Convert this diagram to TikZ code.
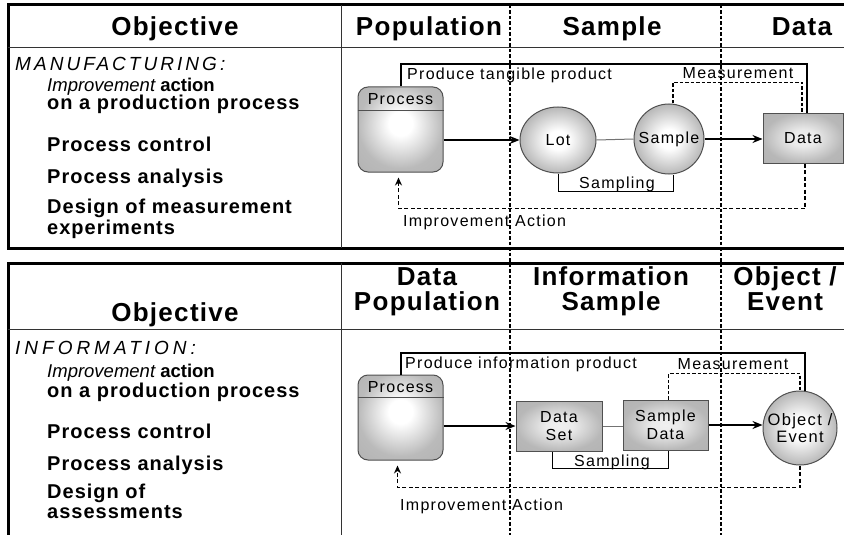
\documentclass[tikz,border=0pt]{standalone}
\usepackage{fontspec}
\setmainfont{Liberation Sans}
\newfontfamily\headfont{Liberation Sans}[LetterSpace=5]
\newfontfamily\listfont{Liberation Sans}[LetterSpace=5]
\newfontfamily\plainfont{Liberation Sans}
\newfontfamily\capsfont{Liberation Sans}[LetterSpace=16]
\newfontfamily\capswide{Liberation Sans}[LetterSpace=21]
\newfontfamily\lblfont{Liberation Sans}[LetterSpace=8]
\usetikzlibrary{arrows.meta,shapes.geometric,calc}
\definecolor{edgegray}{HTML}{505050}
\pgfdeclareradialshading{softball}{\pgfpoint{0bp}{0bp}}{color(0bp)=(white); color(7bp)=(white); color(25bp)=(black!28); color(50bp)=(black!28)}
\pgfdeclareradialshading{softbox}{\pgfpoint{0bp}{4bp}}{color(0bp)=(white); color(7bp)=(white); color(25bp)=(black!27); color(50bp)=(black!33)}
\pgfdeclareradialshading{softdata}{\pgfpoint{0bp}{0bp}}{color(0bp)=(black!6); color(8bp)=(black!8); color(25bp)=(black!28); color(50bp)=(black!32)}
\begin{document}
\begin{tikzpicture}[x=1pt,y=-1pt,
  head/.style={font=\headfont\bfseries\fontsize{26}{24.5}\selectfont, inner sep=0pt, align=center},
  listtxt/.style={font=\listfont\bfseries\fontsize{20}{22}\selectfont, inner sep=0pt, anchor=base west},
  imptxt/.style={font=\plainfont\bfseries\fontsize{18.5}{22}\selectfont, inner sep=0pt, anchor=base west},
  capstxt/.style={font=\capsfont\itshape\fontsize{19}{22}\selectfont, inner sep=0pt, anchor=base west},
  lbl/.style={font=\lblfont\fontsize{16}{18}\selectfont, inner sep=0pt, align=center},
  frame/.style={line width=3pt},
  sep/.style={line width=0.9pt, black!80},
  colsep/.style={line width=1.3pt, dash pattern=on 3.5pt off 2pt},
  procbox/.style={draw=edgegray, line width=1pt, rounded corners=10pt, minimum width=85pt, minimum height=85pt,
    shading=softbox, inner sep=0pt},
  ball/.style={draw=edgegray, line width=1pt, shading=softball, inner sep=0pt},
  databox/.style={draw=edgegray, line width=1pt, shading=softdata, inner sep=0pt},
  flow/.style={line width=1.5pt, -{Stealth[length=10pt,width=8pt]}},
  produce/.style={line width=2pt},
  measure/.style={line width=1.6pt, dash pattern=on 3.5pt off 2pt},
  improve/.style={line width=1.7pt, dash pattern=on 4pt off 2.5pt, -{Stealth[length=8pt,width=7pt]}, shorten >=5pt},
  samplink/.style={line width=0.9pt},
  pairlink/.style={line width=1pt, black!55}
]
\useasboundingbox (0,0) rectangle (844,535);
\fill[white] (0,0) rectangle (844,535);

% ---------- panel frames ----------
\draw[frame] (860,5) -- (8,5) -- (8,248) -- (860,248);
\draw[frame] (860,263) -- (8,263) -- (8,545);
\draw[sep] (8,47) -- (860,47);
\draw[sep] (8,329) -- (860,329);
\draw[sep] (341,5) -- (341,248);
\draw[sep] (341,263) -- (341,545);

% ---------- upper panel: headings ----------
\node[head, anchor=base] (h1obj) at (175,36) {Objective};
\node[head, anchor=base] (h1pop) at (429,36) {Population};
\node[head, anchor=base] (h1smp) at (612,36) {Sample};
\node[head, anchor=base] (h1dat) at (802,36) {Data};

% ---------- upper panel: objectives ----------
\node[capstxt] (m1) at (15,71) {MANUFACTURING:};
\node[imptxt] (m2) at (47,92) {{\mdseries\itshape Improvement} action};
\node[listtxt] (m3) at (47,110) {on a production process};
\node[listtxt] (m4) at (47,151) {Process control};
\node[listtxt] (m5) at (47,183) {Process analysis};
\node[listtxt] (m6) at (47,213) {Design of measurement};
\node[listtxt] (m7) at (47,234) {experiments};

% ---------- upper panel: flow ----------
\node[procbox] (proc1) at (400.5,129.5) {};
\draw[edgegray, line width=1pt] ([yshift=-24pt]proc1.north west) -- ([yshift=-24pt]proc1.north east);
\node[lbl] (proc1t) at ($(proc1.north)+(0,13)$) {Process};
\node[ball, ellipse, minimum width=76pt, minimum height=66pt] (lot) at (558,140) {};
\node[lbl] (lott) at (lot.center) {Lot};
\node[ball, circle, minimum size=70pt] (samp1) at (669,139) {};
\node[lbl] (samp1t) at (samp1.center) {Sample};
\node[databox, minimum width=80pt, minimum height=50pt] (data1) at (803,138) {};
\node[lbl] (data1t) at (data1.center) {Data};

\draw[flow] (proc1.east |- lot.west) -- (lot.west);
\draw[pairlink] (lot.east) -- (samp1.west);
\draw[flow] (samp1.east) -- (samp1.east -| data1.west);
\draw[produce] (proc1.north) -- ++(0,-22) -| ([xshift=4pt]data1.north);
\node[lbl, anchor=base west] (prod1) at (407,80) {Produce tangible product};
\draw[measure] ([xshift=4pt]samp1.north) -- ++(0,-21) -| ([xshift=-1pt]data1.north);
\node[lbl, anchor=base] (meas1) at (738,78) {Measurement};
\draw[samplink] (lot.south) -- ++(0,18) -| ([xshift=4pt]samp1.south);
\node[lbl, anchor=base] (smpl1) at (617,188) {Sampling};
\draw[improve] ([xshift=2pt]data1.south) -- ++(0,45) -| ([xshift=-2pt]proc1.south);
\node[lbl, anchor=base west] (imp1) at (403,226) {Improvement Action};

% ---------- lower panel: headings ----------
\node[head, anchor=base] (h2obj) at (175,321) {Objective};
\node[head, anchor=base] (h2pop) at (427,310) {Data\\Population};
\node[head, anchor=base] (h2inf) at (611,310) {Information\\Sample};
\node[head, anchor=base] (h2obe) at (785,310) {Object /\\Event};

% ---------- lower panel: objectives ----------
\node[capstxt, font=\capswide\itshape\fontsize{19}{22}\selectfont] (i1) at (15,354) {INFORMATION:};
\node[imptxt] (i2) at (47,377) {{\mdseries\itshape Improvement} action};
\node[listtxt] (i3) at (47,397) {on a production process};
\node[listtxt] (i4) at (47,438) {Process control};
\node[listtxt] (i5) at (47,470) {Process analysis};
\node[listtxt] (i6) at (47,498) {Design of};
\node[listtxt] (i7) at (47,518) {assessments};

% ---------- lower panel: flow ----------
\node[procbox] (proc2) at (400.5,417.5) {};
\draw[edgegray, line width=1pt] ([yshift=-23pt]proc2.north west) -- ([yshift=-23pt]proc2.north east);
\node[lbl] (proc2t) at ($(proc2.north)+(0,12.5)$) {Process};
\node[databox, minimum width=86pt, minimum height=50pt, font=\lblfont\fontsize{16}{18}\selectfont, align=center] (dset) at (559,426) {Data\\Set};
\node[databox, minimum width=85pt, minimum height=50pt, font=\lblfont\fontsize{16}{18}\selectfont, align=center] (sdata) at (665.5,425) {Sample\\Data};
\node[ball, circle, minimum size=74pt] (obj) at (800,428) {};
\node[font=\lblfont\fontsize{16.5}{17.5}\selectfont, align=center, inner sep=0pt] (objt) at (obj.center) {Object /\\Event};

\draw[flow] (proc2.east |- dset.west) -- (dset.west);
\draw[pairlink] (dset.east) -- (dset.east -| sdata.west);
\draw[flow] (sdata.east) -- (sdata.east -| obj.west);
\draw[produce] (proc2.north) -- ++(0,-22) -| ([xshift=5pt]obj.north);
\node[lbl, anchor=base west] (prod2) at (405,368) {Produce information product};
\draw[measure] ([xshift=3pt]sdata.north) -- ++(0,-26) -| (obj.north);
\node[lbl, anchor=base] (meas2) at (733,369) {Measurement};
\draw[samplink] ([xshift=-7pt]dset.south) -- ++(0,17) -| ([xshift=3pt]sdata.south);
\node[lbl, anchor=base] (smpl2) at (612,466) {Sampling};
\draw[improve] (obj.south) -- ++(0,22) -| ([xshift=-3pt]proc2.south);
\node[lbl, anchor=base west] (imp2) at (400,510) {Improvement Action};

% ---------- column dividers across both panels ----------
\draw[colsep] (510,5) -- (510,545);
\draw[colsep] (721,5) -- (721,545);
\end{tikzpicture}
\end{document}
